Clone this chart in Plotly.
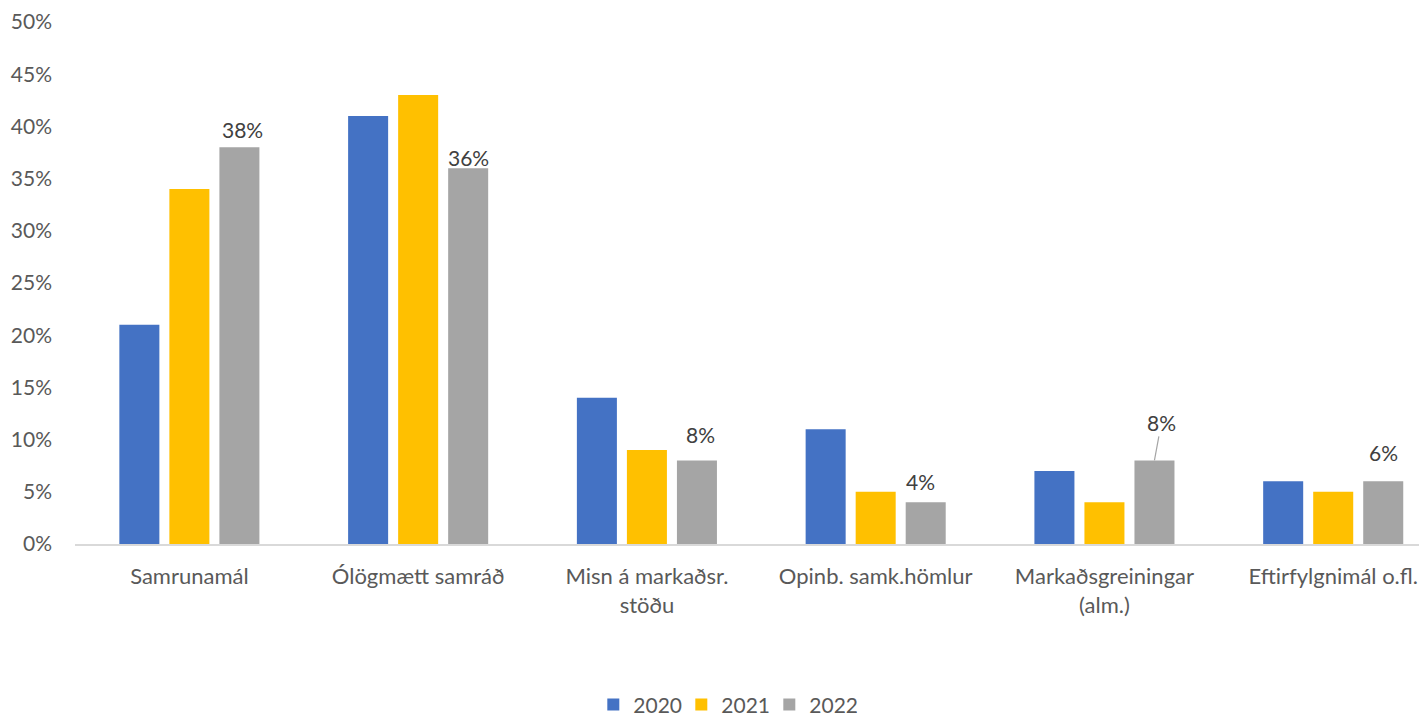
import plotly.graph_objects as go

categories = ["Samrunamál", "Ólögmætt samráð", "Misn á markaðsr.<br>stöðu",
              "Opinb. samk.hömlur", "Markaðsgreiningar<br>(alm.)", "Eftirfylgnimál o.fl."]
years = ["2020", "2021", "2022"]
v2020 = [21, 41, 14, 11, 7, 6]
v2021 = [34, 43, 9, 5, 4, 5]
v2022 = [38, 36, 8, 4, 8, 6]
colors = ["#4472C4", "#FFC000", "#A5A5A5"]
ytick_vals = [0, 5, 10, 15, 20, 25, 30, 35, 40, 45, 50]
ytick_text = [f"{v}%" for v in ytick_vals]

# label placement (pixels) for the 2022 data labels
label_yshift = [18, 11, 26, 21, None, 29]
label_xshift = [53, 50, 54, 45, 50, 50]

FONT = "Lato, 'Liberation Sans', sans-serif"
TXT = "#595959"
FS = 21

fig = go.Figure()
for name, vals, c in zip(years, [v2020, v2021, v2022], colors):
    fig.add_trace(go.Bar(name=name, x=categories, y=vals, marker_color=c,
                         marker_line_width=0))

ann = []
for i, (cat, v) in enumerate(zip(categories, v2022)):
    if label_yshift[i] is None:
        ann.append(dict(x=cat, y=v, xref="x", yref="y", text=f"{v}%",
                        showarrow=True, arrowhead=0, arrowwidth=1.2,
                        arrowcolor="#A5A5A5", ax=7, ay=-38, xshift=label_xshift[i],
                        standoff=0, startstandoff=0,
                        font=dict(family=FONT, size=FS, color="#404040")))
    else:
        ann.append(dict(x=cat, y=v, xref="x", yref="y", text=f"{v}%",
                        showarrow=False, yanchor="middle", xanchor="center",
                        xshift=label_xshift[i], yshift=label_yshift[i],
                        font=dict(family=FONT, size=FS, color="#404040")))

# the page body has an 8px margin, so the figure is sized/positioned to compensate
fig.update_layout(
    width=1419, height=712,
    margin=dict(l=67, r=0, t=14, b=176, autoexpand=False),
    paper_bgcolor="white", plot_bgcolor="white",
    barmode="group", bargap=0.344, bargroupgap=0.2,
    font=dict(family=FONT, size=FS, color=TXT),
    showlegend=True,
    legend=dict(orientation="h", xref="paper", yref="paper",
                x=0.481, y=-0.308, xanchor="center", yanchor="middle",
                font=dict(family=FONT, size=FS, color=TXT),
                itemwidth=30, tracegroupgap=0, entrywidth=43, entrywidthmode="pixels"),
    annotations=ann,
    xaxis=dict(range=[-0.5, 5.41], showgrid=False, showline=True, automargin=False,
               linecolor="#D9D9D9", linewidth=1.5, ticks="",
               ticklabelstandoff=12, tickfont=dict(family=FONT, size=FS + 1, color=TXT)),
    yaxis=dict(range=[0, 50], tickvals=ytick_vals, ticktext=ytick_text,
               showgrid=False, zeroline=False, showline=False, ticks="", automargin=False,
               ticklabelstandoff=22, tickfont=dict(family=FONT, size=FS, color=TXT)),
)

fig.write_html("out.html")
